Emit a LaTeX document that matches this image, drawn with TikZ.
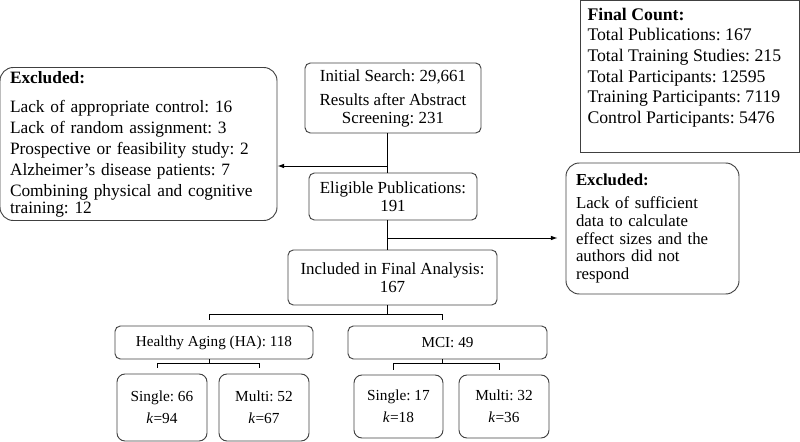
\documentclass[tikz,border=0pt]{standalone}
\usepackage{fontspec}
\setmainfont{Liberation Serif}
\frenchspacing
\usetikzlibrary{arrows.meta,calc}
\newcommand{\px}{0.75pt}
\tikzset{
	flowbox/.style 2 args={draw=black!75, line width=0.7pt, rounded corners=4pt, align=center, inner sep=2pt, minimum width=#1*\px, minimum height=#2*\px, font=\fontsize{12.7}{13.5}\selectfont},
	notebox/.style 2 args={flowbox={#1}{#2}, rounded corners=10pt, align=left, inner xsep=10*\px, text width=#1*\px-20*\px},
	groupbox/.style 2 args={flowbox={#1}{#2}, font=\fontsize{11.4}{13}\selectfont},
	leafbox/.style 2 args={flowbox={#1}{#2}, rounded corners=6pt, font=\fontsize{11.5}{13}\selectfont},
	link/.style={line width=0.7pt},
	exarrow/.style={link, -{Latex[length=5pt,width=3.5pt]}}
}

\begin{document}
\begin{tikzpicture}[x=\px, y=-\px]
			%%%%% START %%%%%
			\useasboundingbox (0,0) rectangle (800,442);
			
			\node[flowbox={176}{70}] (init) at (393,98) {Initial Search: 29,661\\[4.5pt]Results after Abstract\\Screening: 231};
			\node[flowbox={168}{47}] (elig) at (393,196.5) {Eligible Publications:\\191};
			\node[flowbox={209}{55}] (incl) at (392.5,277.5) {Included in Final Analysis:\\167};
			
			\node[notebox={277}{153}, font=\fontsize{13}{14.5}\selectfont] (exleft) at (138.5,144) {\textbf{Excluded:}\\[7.5pt]
				Lack of appropriate control: 16\\[1.2pt]
				Lack of random assignment: 3\\[1.2pt]
				Prospective or feasibility study: 2\\[1.2pt]
				Alzheimer's disease patients: 7\\[1.2pt]
				Combining physical and cognitive\\[-1.8pt]
				training: 12};
			\node[notebox={173}{131}, font=\fontsize{12.6}{13.3}\selectfont] (exright) at (652.5,228.5) {\textbf{Excluded:}\\[4pt]
				Lack of sufficient\\data to calculate\\effect sizes and the\\authors did not\\respond};
			
			\node[flowbox={219}{152}, rounded corners=0pt, inner sep=0pt] (count) at (689.5,76) {%
				\begin{minipage}[t][105pt][t]{153pt}\raggedright
				\fontsize{13.3}{15.5}\selectfont
				\vspace*{1.5pt}
				\textbf{Final Count:}\\
				Total Publications: 167\\
				Total Training Studies: 215\\
				Total Participants: 12595\\
				Training Participants: 7119\\
				Control Participants: 5476
				\end{minipage}};
			
			\node[groupbox={198}{33}] (ha) at (214,342.5) {Healthy Aging (HA): 118};
			\node[groupbox={199}{33}] (mci) at (447.5,342.5) {MCI: 49};
			
			\node[leafbox={90}{67}] (hasingle) at (162,407.5) {Single: 66\\[3.5pt]\textit{k}=94};
			\node[leafbox={90}{67}] (hamulti) at (264,407.5) {Multi: 52\\[3.5pt]\textit{k}=67};
			\node[leafbox={89}{63}] (mcisingle) at (398.5,406.5) {Single: 17\\[3.5pt]\textit{k}=18};
			\node[leafbox={90}{63}] (mcimulti) at (504,406.5) {Multi: 32\\[3.5pt]\textit{k}=36};
			
			% main line and exclusions
			\coordinate (spine) at (387,0);
			\draw[link] (init.south -| spine) -- (elig.north -| spine);
			\coordinate (cut1) at (387,166);
			\draw[exarrow] (cut1) -- (exleft.east |- cut1);
			\draw[link] (elig.south -| spine) -- (incl.north -| spine);
			\coordinate (cut2) at (387,238);
			\draw[exarrow, shorten >=6pt] (cut2) -- (exright.west |- cut2);
			
			% split into groups
			\draw[link] (incl.south -| spine) -- ++(0,9) coordinate (split);
			\draw[link] (split) -| ([xshift=-5*\px, yshift=6*\px]ha.north);
			\draw[link] (split) -| ([xshift=-5*\px, yshift=6*\px]mci.north);
			
			\draw[link] ([xshift=-5*\px]ha.south) -- ++(0,4) coordinate (hasplit);
			\draw[link] (hasplit) -| ([xshift=-5*\px, yshift=6*\px]hasingle.north);
			\draw[link] (hasplit) -| ([xshift=-5*\px, yshift=6*\px]hamulti.north);
			
			\draw[link] ([xshift=-5*\px]mci.south) -- ++(0,4) coordinate (mcisplit);
			\draw[link] (mcisplit) -| ([xshift=-5*\px, yshift=5*\px]mcisingle.north);
			\draw[link] (mcisplit) -| ([xshift=-5*\px, yshift=5*\px]mcimulti.north);
			
			%%%%% END %%%%%
		\end{tikzpicture}
\end{document}
